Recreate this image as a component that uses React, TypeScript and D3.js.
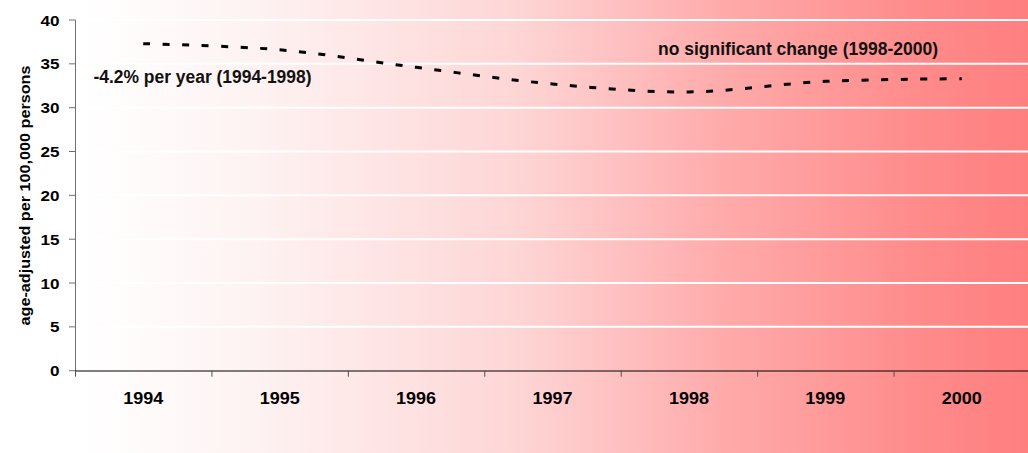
import React from "react";
import * as d3 from "d3";

const years = ["1994", "1995", "1996", "1997", "1998", "1999", "2000"];
const rates = [37.3, 36.6, 34.6, 32.7, 31.8, 33.0, 33.3];
const yTicks = [0, 5, 10, 15, 20, 25, 30, 35, 40];
const annotations = [
  { text: "-4.2% per year (1994-1998)", x: 93.5, y: 82.5, size: 18, len: 218 },
  { text: "no significant change (1998-2000)", x: 658, y: 54.5, size: 17.5, len: 280 },
];
const yLabel = "age-adjusted per 100,000 persons";

const W = 1028;
const H = 453;
const FONT = "'Liberation Sans', Arial, sans-serif";

export default function App() {
  const x = d3.scaleBand<string>().domain(years).range([75, 1030]).padding(0);
  const y = d3.scaleLinear().domain([0, 40]).range([370.7, 20]);
  const line = d3
    .line<number>()
    .x((_, i) => (x(years[i]) as number) + x.bandwidth() / 2)
    .y((d) => y(d))
    .curve(d3.curveCatmullRom.alpha(0.5));
  const boundaries = years.map((yr) => x(yr) as number).concat([x.range()[1]]);

  return (
    <svg
      width={W}
      height={H}
      style={{ position: "absolute", left: 0, top: 0, display: "block" }}
    >
      <defs>
        <linearGradient id="bg" x1="0" x2="1" y1="0" y2="0">
          <stop offset="0" stopColor="#ffffff" />
          <stop offset="0.08" stopColor="#ffffff" />
          <stop offset="0.25" stopColor="#fef2f2" />
          <stop offset="0.5" stopColor="#fed6d6" />
          <stop offset="0.7" stopColor="#ffabab" />
          <stop offset="0.9" stopColor="#ff8a8a" />
          <stop offset="1" stopColor="#ff7f7f" />
        </linearGradient>
      </defs>
      <rect x={0} y={0} width={W} height={H} fill="url(#bg)" />

      {/* gridlines */}
      {yTicks
        .filter((t) => t > 0)
        .map((t) => (
          <line
            key={"g" + t}
            x1={75}
            x2={W}
            y1={y(t)}
            y2={y(t)}
            stroke="#ffffff"
            strokeWidth={2}
          />
        ))}

      {/* y axis */}
      <line x1={75.5} x2={75.5} y1={y(40)} y2={y(0)} stroke="#707070" strokeWidth={1} />
      {yTicks.map((t) => (
        <g key={"yt" + t}>
          <line x1={69} x2={75.5} y1={y(t)} y2={y(t)} stroke="#707070" strokeWidth={1} />
          <text
            x={59.5}
            y={y(t) + 5.5}
            textAnchor="end"
            fontFamily={FONT}
            fontWeight="bold"
            fontSize={15}
            textLength={t >= 10 ? 19 : 9.5}
            lengthAdjust="spacingAndGlyphs"
            fill="#000"
          >
            {t}
          </text>
        </g>
      ))}

      {/* x axis */}
      <line x1={75} x2={W} y1={y(0) + 0.3} y2={y(0) + 0.3} stroke="#000" strokeWidth={1} />
      {boundaries.map((b, i) => (
        <line
          key={"xt" + i}
          x1={b + 0.5}
          x2={b + 0.5}
          y1={y(0)}
          y2={y(0) + 6}
          stroke="#505050"
          strokeWidth={1}
        />
      ))}
      {years.map((yr) => (
        <text
          key={"xl" + yr}
          x={(x(yr) as number) + x.bandwidth() / 2}
          y={403.5}
          textAnchor="middle"
          fontFamily={FONT}
          fontWeight="bold"
          fontSize={16.5}
          textLength={40}
          lengthAdjust="spacingAndGlyphs"
          fill="#000"
        >
          {yr}
        </text>
      ))}

      {/* y label */}
      <text
        transform={`translate(30,195.5) rotate(-90)`}
        textAnchor="middle"
        fontFamily={FONT}
        fontWeight="bold"
        fontSize={14}
        textLength={260}
        lengthAdjust="spacingAndGlyphs"
        fill="#000"
      >
        {yLabel}
      </text>

      {/* data line */}
      <path
        d={line(rates) as string}
        fill="none"
        stroke="#000"
        strokeWidth={3}
        strokeDasharray="7 12.5"
      />

      {/* annotations */}
      {annotations.map((a) => (
        <text
          key={a.text}
          x={a.x}
          y={a.y}
          fontFamily={FONT}
          fontWeight="bold"
          fontSize={a.size}
          textLength={a.len}
          lengthAdjust="spacingAndGlyphs"
          fill="#111"
        >
          {a.text}
        </text>
      ))}
    </svg>
  );
}
